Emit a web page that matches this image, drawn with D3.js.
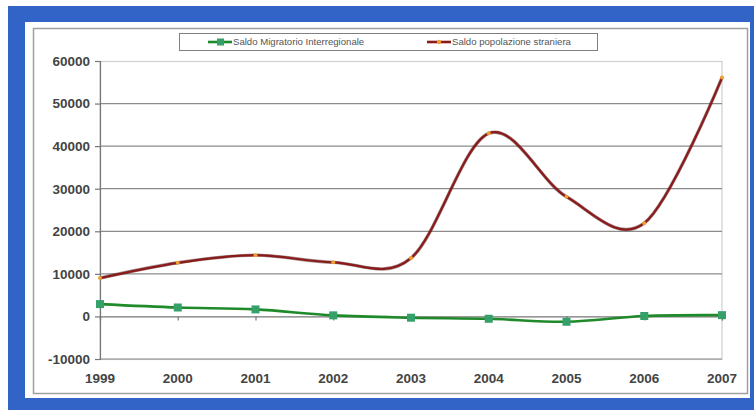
<!DOCTYPE html>
<html>
<head>
<meta charset="utf-8">
<script src="https://cdn.jsdelivr.net/npm/d3@7"></script>
<style>
  html, body { margin: 0; padding: 0; background: #ffffff; }
  svg { display: block; }
</style>
</head>
<body>
<svg id="chart" width="754" height="410"></svg>
<script>
// Years on the category axis
const years = ["1999", "2000", "2001", "2002", "2003", "2004", "2005", "2006", "2007"];
// Net interregional migration balance
const saldoInterregionale = [2900, 2100, 1650, 250, -300, -550, -1250, 100, 300];
// Net balance of the foreign population
const saldoStranieri = [9000, 12600, 14400, 12700, 13700, 43000, 28100, 21900, 56100];
// Value-axis ticks
const yTicks = [-10000, 0, 10000, 20000, 30000, 40000, 50000, 60000];
const seriesNames = ["Saldo Migratorio Interregionale", "Saldo popolazione straniera"];

const svg = d3.select("#chart");
const font = "'Liberation Sans', Arial, sans-serif";

// Frame: blue band, white panel, grey chart border
svg.append("rect").attr("x", 8).attr("y", 6).attr("width", 746).attr("height", 404).attr("fill", "#3264c8");
svg.append("rect").attr("x", 25).attr("y", 22).attr("width", 725).attr("height", 376).attr("fill", "#ffffff");
svg.append("rect").attr("x", 33.5).attr("y", 28.5).attr("width", 714).attr("height", 365)
  .attr("fill", "none").attr("stroke", "#a0a0a0").attr("stroke-width", 1.5);

const plot = { left: 100, right: 722, top: 61, bottom: 359 };

const x = d3.scalePoint().domain(years).range([plot.left, plot.right]);
const y = d3.scaleLinear().domain([-10000, 60000]).range([plot.bottom, plot.top]);

// Plot-area border (light)
svg.append("rect").attr("x", plot.left).attr("y", plot.top + 0.5)
  .attr("width", plot.right - plot.left).attr("height", plot.bottom - plot.top)
  .attr("fill", "none").attr("stroke", "#cfcfcf").attr("stroke-width", 1.2);

// Horizontal gridlines
svg.append("g").selectAll("line")
  .data(yTicks.filter(v => v !== 0 && v !== 60000))
  .join("line")
  .attr("x1", plot.left).attr("x2", plot.right)
  .attr("y1", d => y(d)).attr("y2", d => y(d))
  .attr("stroke", "#8c8c8c").attr("stroke-width", 1.2);

// Value axis (plain hyphen for negatives)
const yAxis = d3.axisLeft(y).tickValues(yTicks).tickSize(5).tickPadding(5).tickFormat(d => String(d));
const gy = svg.append("g").attr("transform", `translate(${plot.left},0)`).call(yAxis);
gy.select(".domain").attr("stroke", "#777").attr("stroke-width", 1.2);
gy.selectAll(".tick line").attr("stroke", "#777").attr("stroke-width", 1.2);
gy.selectAll(".tick text").attr("font-family", font).attr("font-size", 13.5)
  .attr("font-weight", "bold").attr("fill", "#444");

// Category axis crossing at zero, tick marks below the line
const xAxis = d3.axisBottom(x).tickSize(4).tickFormat("");
const gx = svg.append("g").attr("transform", `translate(0,${y(0)})`).call(xAxis);
gx.select(".domain").attr("stroke", "#777").attr("stroke-width", 1.2);
gx.selectAll(".tick line").attr("stroke", "#777").attr("stroke-width", 1.2);

// Category labels along the bottom
svg.append("g").selectAll("text")
  .data(years).join("text")
  .attr("x", d => x(d)).attr("y", 383)
  .attr("text-anchor", "middle")
  .attr("font-family", font).attr("font-size", 13.5).attr("font-weight", "bold")
  .attr("fill", "#444")
  .text(d => d);

const curve = d3.curveCatmullRom.alpha(0);
const line = d3.line().x((d, i) => x(years[i])).y(d => y(d)).curve(curve);

// Foreign population series
svg.append("path").datum(saldoStranieri).attr("d", line)
  .attr("fill", "none").attr("stroke", "#3a0a0a").attr("stroke-width", 3.4).attr("opacity", 0.45);
svg.append("path").datum(saldoStranieri).attr("d", line)
  .attr("fill", "none").attr("stroke", "#8b1a1a").attr("stroke-width", 2.2);
svg.append("g").selectAll("circle")
  .data(saldoStranieri).join("circle")
  .attr("cx", (d, i) => x(years[i])).attr("cy", d => y(d)).attr("r", 2)
  .attr("fill", "#f0a030");

// Interregional series
svg.append("path").datum(saldoInterregionale).attr("d", line)
  .attr("fill", "none").attr("stroke", "#1f8a2a").attr("stroke-width", 2.6);
svg.append("g").selectAll("rect")
  .data(saldoInterregionale).join("rect")
  .attr("x", (d, i) => x(years[i]) - 4).attr("y", d => y(d) - 4)
  .attr("width", 8).attr("height", 8)
  .attr("fill", "#35a06a");

// Legend
const lg = svg.append("g");
lg.append("rect").attr("x", 179.5).attr("y", 33.5).attr("width", 418).attr("height", 17)
  .attr("fill", "#fff").attr("stroke", "#808080").attr("stroke-width", 1);
const legendItems = [
  { name: seriesNames[0], x0: 208, color: "#1f8a2a", marker: "square" },
  { name: seriesNames[1], x0: 427, color: "#8b1a1a", marker: "circle" }
];
legendItems.forEach(it => {
  lg.append("line").attr("x1", it.x0).attr("x2", it.x0 + 24).attr("y1", 42).attr("y2", 42)
    .attr("stroke", it.color).attr("stroke-width", 2.6);
  if (it.marker === "square") {
    lg.append("rect").attr("x", it.x0 + 9).attr("y", 38.5).attr("width", 7).attr("height", 7).attr("fill", "#35a06a");
  } else {
    lg.append("circle").attr("cx", it.x0 + 12).attr("cy", 42).attr("r", 2.2).attr("fill", "#f0a030");
  }
  lg.append("text").attr("x", it.x0 + 25).attr("y", 45)
    .attr("font-family", font).attr("font-size", 9.6).attr("fill", "#555")
    .text(it.name);
});
</script>
</body>
</html>
